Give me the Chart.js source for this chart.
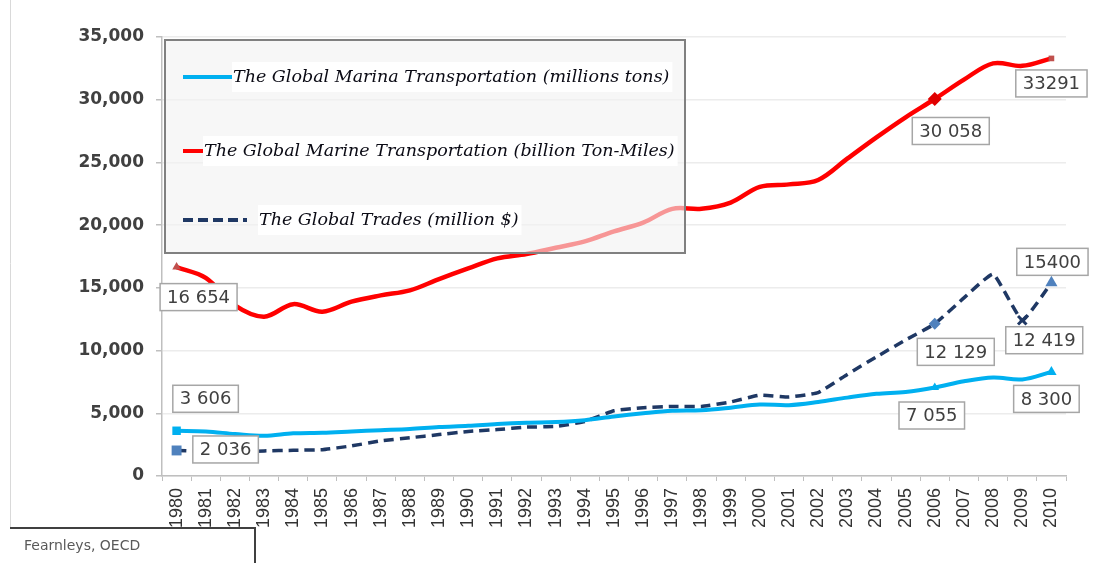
<!DOCTYPE html>
<html>
<head>
<meta charset="utf-8">
<script src="https://cdn.jsdelivr.net/npm/chart.js@4.4.1/dist/chart.umd.min.js"></script>
<style>
  html, body { margin: 0; padding: 0; background: #fff; }
</style>
</head>
<body>
<canvas id="lineChart" width="1102" height="563"></canvas>
<script>
const years = ['1980','1981','1982','1983','1984','1985','1986','1987','1988','1989',
  '1990','1991','1992','1993','1994','1995','1996','1997','1998','1999',
  '2000','2001','2002','2003','2004','2005','2006','2007','2008','2009','2010'];

// millions tons
const tonsMillions = [3606, 3550, 3350, 3200, 3400, 3450, 3550, 3650, 3750, 3900,
  4000, 4150, 4250, 4300, 4450, 4750, 5000, 5200, 5250, 5450,
  5700, 5650, 5900, 6250, 6550, 6700, 7055, 7550, 7850, 7700, 8300];

// billion ton-miles
const tonMilesBillions = [16654, 15800, 13600, 12700, 13700, 13100, 13900, 14400, 14800, 15700,
  16550, 17350, 17700, 18200, 18700, 19500, 20200, 21300, 21300, 21800,
  23050, 23250, 23600, 25300, 27000, 28600, 30058, 31600, 32900, 32700, 33291];

// million $
const tradeMillions = [2036, 1950, 1900, 2000, 2050, 2100, 2400, 2800, 3050, 3300,
  3550, 3700, 3900, 3950, 4350, 5200, 5450, 5550, 5550, 5900,
  6450, 6300, 6650, 8100, 9500, 10850, 12129, 14200, 16100, 12419, 15400];

const legendLabels = [
  'The Global Marina Transportation (millions tons)',
  'The Global Marine Transportation (billion Ton-Miles)',
  'The Global Trades (million $)'
];

const sourceNote = 'Fearnleys, OECD';

// dataset index, year, label text
const callouts = [
  [1, '1980', '16 654'],
  [0, '1980', '3 606'],
  [2, '1980', '2 036'],
  [1, '2006', '30 058'],
  [1, '2010', '33291'],
  [2, '2006', '12 129'],
  [2, '2009', '12 419'],
  [2, '2010', '15400'],
  [0, '2006', '7 055'],
  [0, '2010', '8 300']
];
// where each box sits relative to its point
const calloutOffsets = [[22, 30], [29, -32], [49, -1], [16, 32], [0, 25],
  [21, 28], [22, 20], [1, -21], [-3, 28], [-5, 27]];

// marker helper: only a few points carry a marker
function marks(spec, fallback) {
  return years.map(y => (y in spec ? spec[y] : fallback));
}

const overlayPlugin = {
  id: 'overlay',
  afterDatasetsDraw(chart) {
    const ctx = chart.ctx;
    ctx.save();

    // legend box, see-through so the red line shows faintly
    ctx.fillStyle = 'rgba(242,242,242,0.62)';
    ctx.fillRect(165, 40, 520, 213);
    ctx.strokeStyle = '#808080';
    ctx.lineWidth = 2;
    ctx.strokeRect(165, 40, 520, 213);

    const entries = [
      { color: '#00b0f0', dash: [], x0: 183, x1: 232, y: 77, tx: 232 },
      { color: '#ff0000', dash: [], x0: 183, x1: 203, y: 151, tx: 203 },
      { color: '#1f3864', dash: [10, 5], x0: 183, x1: 247, y: 220, tx: 258 }
    ];
    ctx.font = 'italic 17.5px "DejaVu Serif"';
    ctx.textBaseline = 'middle';
    entries.forEach((e, i) => {
      const w = ctx.measureText(legendLabels[i]).width;
      ctx.fillStyle = '#ffffff';
      ctx.fillRect(e.tx, e.y - 15, w + 4, 30);
      ctx.fillStyle = '#0a0a14';
      ctx.fillText(legendLabels[i], e.tx + 1, e.y);
      ctx.beginPath();
      ctx.setLineDash(e.dash);
      ctx.strokeStyle = e.color;
      ctx.lineWidth = 4;
      ctx.moveTo(e.x0, e.y);
      ctx.lineTo(e.x1, e.y);
      ctx.stroke();
    });
    ctx.setLineDash([]);

    // value callouts
    ctx.font = '18px "DejaVu Sans"';
    ctx.textAlign = 'center';
    callouts.forEach((c, i) => {
      const meta = chart.getDatasetMeta(c[0]);
      const pt = meta.data[years.indexOf(c[1])];
      const cx = pt.x + calloutOffsets[i][0];
      const cy = pt.y + calloutOffsets[i][1];
      const w = ctx.measureText(c[2]).width + 14;
      const h = 27;
      ctx.fillStyle = '#ffffff';
      ctx.fillRect(cx - w / 2, cy - h / 2, w, h);
      ctx.strokeStyle = '#a6a6a6';
      ctx.lineWidth = 1.5;
      ctx.strokeRect(cx - w / 2, cy - h / 2, w, h);
      ctx.fillStyle = '#404040';
      ctx.fillText(c[2], cx, cy + 1);
    });
    ctx.restore();
  },
  afterDraw(chart) {
    const ctx = chart.ctx;
    ctx.save();
    // faint frame on the left
    ctx.strokeStyle = '#d9d9d9';
    ctx.lineWidth = 1;
    ctx.beginPath();
    ctx.moveTo(10.5, 0);
    ctx.lineTo(10.5, 527);
    ctx.stroke();
    // source box sits over the first year labels
    ctx.fillStyle = '#ffffff';
    ctx.fillRect(10, 528, 245, 35);
    ctx.strokeStyle = '#404040';
    ctx.lineWidth = 2;
    ctx.beginPath();
    ctx.moveTo(10, 528);
    ctx.lineTo(255, 528);
    ctx.lineTo(255, 563);
    ctx.stroke();
    ctx.fillStyle = '#595959';
    ctx.font = '14px "DejaVu Sans"';
    ctx.textBaseline = 'middle';
    ctx.fillText(sourceNote, 24, 546);
    ctx.restore();
  }
};

const ctx = document.getElementById('lineChart').getContext('2d');
const lineChart = new Chart(ctx, {
  type: 'line',
  data: {
    labels: years,
    datasets: [
      {
        label: legendLabels[0],
        data: tonsMillions,
        borderColor: '#00b0f0',
        backgroundColor: '#00b0f0',
        borderWidth: 4,
        tension: 0.35,
        pointStyle: marks({ '1980': 'rect', '2006': 'triangle', '2010': 'triangle' }, 'circle'),
        pointRadius: marks({ '1980': 6, '2006': 5, '2010': 6 }, 0),
        pointBorderWidth: 0
      },
      {
        label: legendLabels[1],
        data: tonMilesBillions,
        borderColor: '#ff0000',
        backgroundColor: marks({ '1980': '#c0504d', '2006': '#e00000', '2010': '#c0504d' }, '#ff0000'),
        borderWidth: 4.5,
        tension: 0.35,
        pointStyle: marks({ '1980': 'triangle', '2006': 'rectRot', '2010': 'rect' }, 'circle'),
        pointRadius: marks({ '1980': 5, '2006': 7, '2010': 4 }, 0),
        pointBorderWidth: 0
      },
      {
        label: legendLabels[2],
        data: tradeMillions,
        borderColor: '#1f3864',
        backgroundColor: marks({ '2009': '#1f3864' }, '#4f81bd'),
        borderWidth: 3.5,
        borderDash: [10, 6],
        tension: 0.12,
        pointStyle: marks({ '1980': 'rect', '2006': 'rectRot', '2009': 'crossRot', '2010': 'triangle' }, 'circle'),
        pointRadius: marks({ '1980': 7, '2006': 6, '2009': 6, '2010': 7 }, 0),
        pointBorderColor: marks({ '2009': '#1f3864' }, '#4f81bd'),
        pointBorderWidth: marks({ '2009': 3 }, 0)
      }
    ]
  },
  options: {
    responsive: false,
    devicePixelRatio: 1,
    animation: false,
    layout: { padding: { top: 37, right: 36, left: 0, bottom: 0 } },
    plugins: {
      legend: { display: false },
      tooltip: { enabled: false }
    },
    scales: {
      x: {
        offset: true,
        afterFit: (scale) => { scale.height = 87; },
        grid: {
          offset: true,
          drawOnChartArea: false,
          color: '#bfbfbf',
          tickLength: 5
        },
        border: { color: '#bfbfbf', width: 1.5 },
        ticks: {
          autoSkip: false,
          maxRotation: 90,
          minRotation: 90,
          padding: 7,
          color: '#333333',
          font: { family: 'Liberation Sans', size: 18 }
        }
      },
      y: {
        min: 0,
        max: 35000,
        afterFit: (scale) => { scale.width = 162; },
        grid: {
          color: '#ececec',
          tickColor: '#bfbfbf',
          tickLength: 6,
          lineWidth: 1.5
        },
        border: { color: '#bfbfbf', width: 1.5 },
        ticks: {
          stepSize: 5000,
          padding: 12,
          color: '#404040',
          font: { family: 'DejaVu Sans', size: 17, weight: 'bold' },
          callback: (v) => v.toLocaleString('en-US')
        }
      }
    }
  },
  plugins: [overlayPlugin]
});
</script>
</body>
</html>
